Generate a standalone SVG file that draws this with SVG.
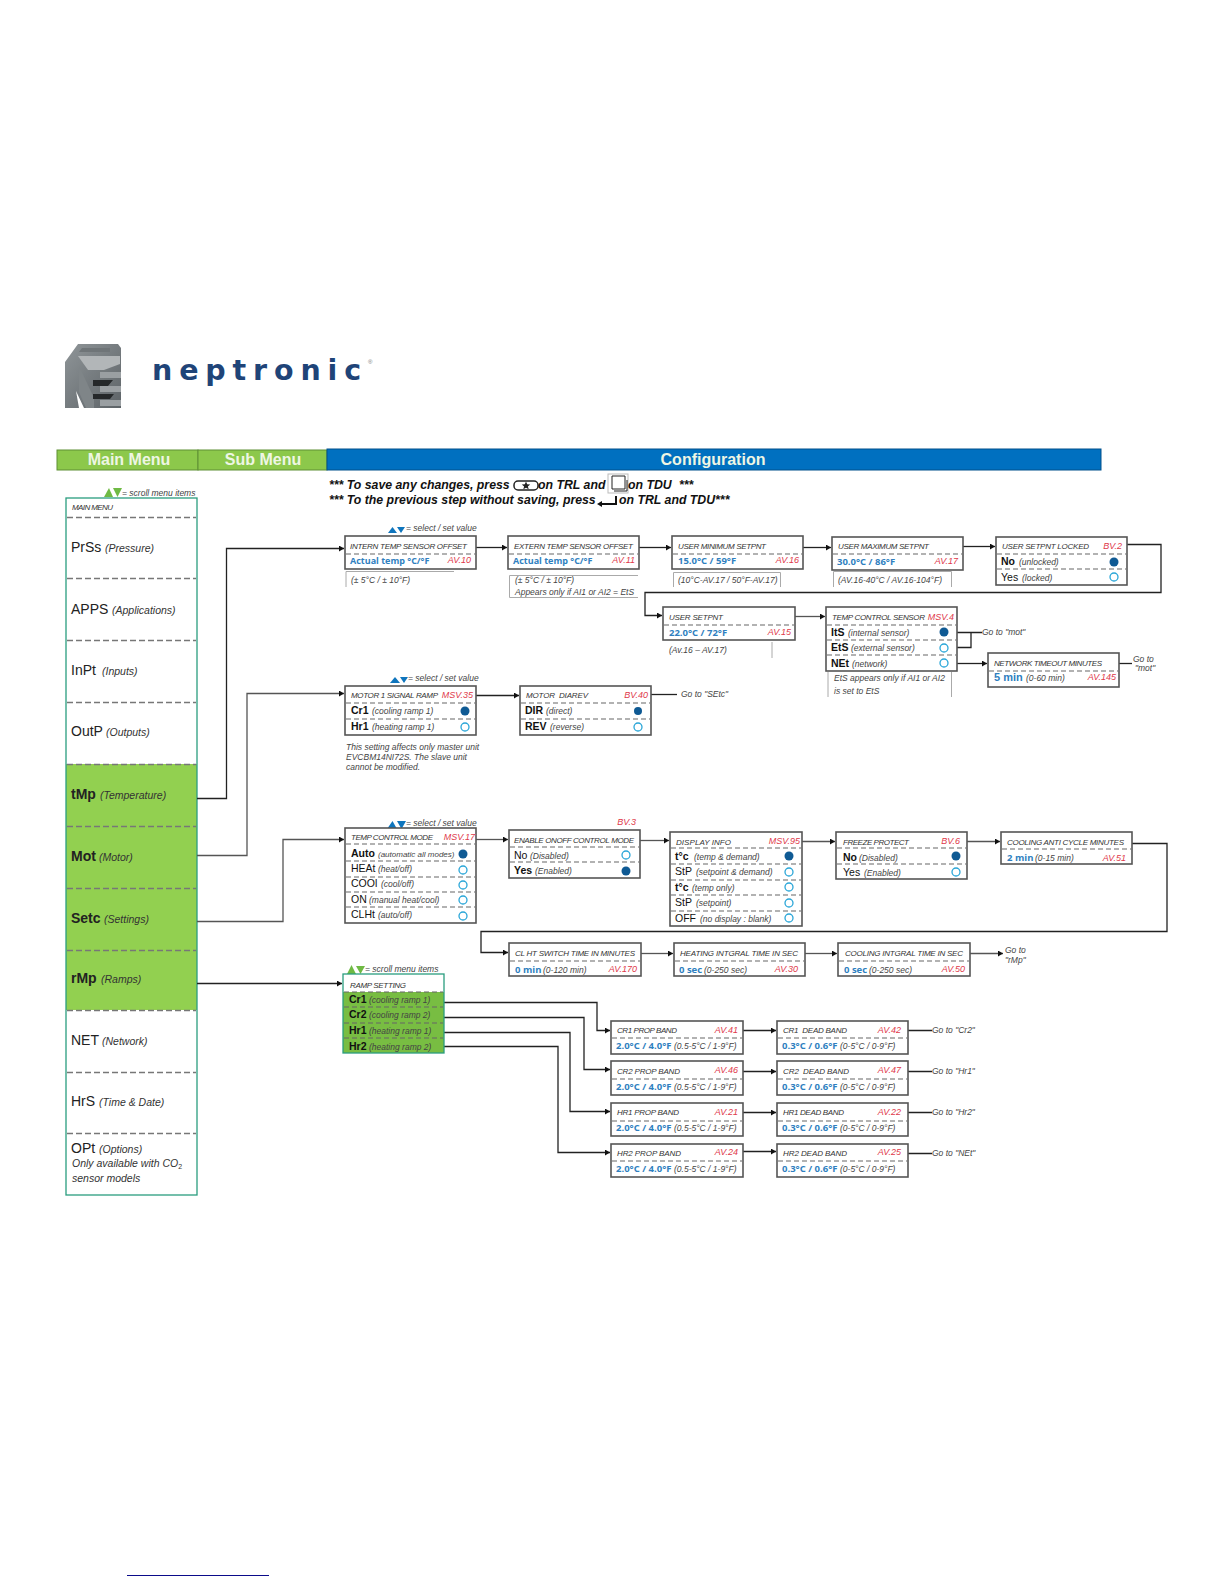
<svg xmlns="http://www.w3.org/2000/svg" width="1224" height="1584" viewBox="0 0 1224 1584">
<style>
text{font-family:"Liberation Sans",Arial,sans-serif}
.b{fill:#fff;stroke:#555;stroke-width:1.6}
.d{stroke:#666;stroke-width:1.2;stroke-dasharray:5 3;fill:none}
.md{stroke:#777;stroke-width:1.3;stroke-dasharray:6 3;fill:none}
.c{fill:none;stroke:#222;stroke-width:1.3}
.a{marker-end:url(#ar)}
.n{fill:none;stroke:#aaa;stroke-width:1}
.t{font-size:8px;font-style:italic;fill:#333}
.r{font-size:9px;font-style:italic;fill:#e0384a;text-anchor:end}
.v{font-family:"Open Sans",sans-serif;font-size:9.5px;font-weight:700;fill:#2f7fbf}
.o{font-size:10.5px;fill:#111}
.ob{font-size:10.5px;font-weight:700;fill:#111}
.i{font-size:8.5px;font-style:italic;fill:#444}
.m{font-size:14px;fill:#222}
.mb{font-size:14px;font-weight:700;fill:#222}
.mi{font-size:10.5px;font-style:italic;fill:#333}
.w{font-size:16px;font-weight:700;fill:#eef6e4;text-anchor:middle}
.s{font-size:12.3px;font-weight:700;font-style:italic;fill:#111}
.on{fill:#0f5a94}
.off{fill:#fff;stroke:#2aa6d8;stroke-width:1.3}
</style>
<defs>
<marker id="ar" markerWidth="6" markerHeight="7" refX="5" refY="3" orient="auto" markerUnits="userSpaceOnUse"><path d="M0 0L5 3L0 6Z" fill="#111"/></marker>
<linearGradient id="lg" x1="0" y1="0" x2="1" y2="1"><stop offset="0" stop-color="#8f9598"/><stop offset="1" stop-color="#5d6367"/></linearGradient>
</defs>
<g id="logo">
<path d="M65 362L78 344H118L121 348V408H84L76 391L79 408H65Z" fill="url(#lg)"/>
<path d="M82 348H110V352H79Z" fill="#6f7578"/>
<path d="M78 356H120V364L104 370H88Z" fill="#b2b6b8"/>
<path d="M79 366L94 398V408H86L79 392Z" fill="#7f8588"/>
<path d="M93 380H113L108 386H93ZM93 394H114L110 399H93Z" fill="#25282a"/>
<path d="M100 372H121V378H100ZM100 386H121V392H100ZM100 400H121V406H100Z" fill="#9a9fa2"/>
<text x="152" y="380" font-size="29" font-weight="700" fill="#1f4478" letter-spacing="7" textLength="216" lengthAdjust="spacingAndGlyphs" style="font-family:'DejaVu Sans',sans-serif">neptronic</text>
<text x="368" y="364" font-size="6" fill="#777">®</text>
</g>
<g id="header">
<rect x="57" y="450" width="141" height="20" fill="#8cc84b" stroke="#5f8f35"/>
<rect x="198" y="450" width="129" height="20" fill="#8cc84b" stroke="#5f8f35"/>
<rect x="327" y="449" width="774" height="21" fill="#0070c0" stroke="#00508c"/>
<text class="w" x="129" y="465">Main Menu</text>
<text class="w" x="263" y="465">Sub Menu</text>
<text class="w" x="713" y="465">Configuration</text>
</g>
<g id="instructions">
<text class="s" x="329" y="489">*** To save any changes, press</text>
<rect x="514" y="481" width="24" height="9" rx="4" fill="none" stroke="#222" stroke-width="1.5"/>
<path d="M526 481.500l1.200 2.800 3 .2-2.300 1.900.8 2.900-2.700-1.600-2.700 1.600.8-2.900-2.300-1.900 3-.2z" fill="#222"/>
<text class="s" x="538" y="489">on TRL and</text>
<rect x="608" y="474" width="20" height="19" fill="none" stroke="#bbb"/>
<path d="M612 476H625V489H612ZM627 480V491H614" fill="none" stroke="#222" stroke-width="1"/>
<text class="s" x="628" y="489">on TDU</text>
<text class="s" x="679" y="489">***</text>
<text class="s" x="329" y="504">*** To the previous step without saving, press</text>
<path d="M616 496V504H600" fill="none" stroke="#111" stroke-width="2"/>
<path d="M597 504L602 501V507Z" fill="#111"/>
<text class="s" x="619" y="504">on TRL and TDU***</text>
<path d="M104 497L109 488L113 497Z" fill="#6fba44"/><path d="M113 488H122L117.500 497Z" fill="#6fba44"/>
<text class="i" x="122" y="496">= scroll menu items</text>
<path d="M388 533L392.500 527L397 533Z" fill="#0f75bd"/><path d="M397 527H405L401 533Z" fill="#0f75bd"/>
<text class="i" x="406" y="531">= select / set value</text>
<path d="M390 683L395 677L400 683Z" fill="#0f75bd"/><path d="M400 677H408L404 683Z" fill="#0f75bd"/>
<text class="i" x="408" y="681">= select / set value</text>
<path d="M387 829L392.500 821L397 829Z" fill="#0f75bd"/><path d="M397 821H406L401.500 829Z" fill="#0f75bd"/>
<text class="i" x="406" y="826">= select / set value</text>
<path d="M347 974L351.500 965L356 974Z" fill="#6fba44"/><path d="M356 966H365L360.500 974Z" fill="#6fba44"/>
<text class="i" x="365" y="972">= scroll menu items</text>
</g>
<g id="main-menu">
<rect x="66" y="764" width="131" height="246" fill="#92d050"/>
<rect x="66" y="498" width="131" height="697" fill="none" stroke="#2a9d7f" stroke-width="1.3"/>
<path class="md" d="M67 517.500H196M67 578.500H196M67 640.500H196M67 702.500H196M67 764.500H196M67 826.500H196M67 888.500H196M67 950.500H196M67 1010.500H196M67 1072.500H196M67 1133.500H196"/>
<text class="t" x="72" y="510" textLength="41">MAIN MENU</text>
<g id="m-prss"><text class="m" x="71" y="552">PrSs</text><text class="mi" x="105" y="552">(Pressure)</text></g>
<g id="m-apps"><text class="m" x="71" y="614">APPS</text><text class="mi" x="112" y="614">(Applications)</text></g>
<g id="m-inpt"><text class="m" x="71" y="675">InPt</text><text class="mi" x="102" y="675">(Inputs)</text></g>
<g id="m-outp"><text class="m" x="71" y="736">OutP</text><text class="mi" x="106" y="736">(Outputs)</text></g>
<g id="m-tmp"><text class="mb" x="71" y="799">tMp</text><text class="mi" x="100" y="799">(Temperature)</text></g>
<g id="m-mot"><text class="mb" x="71" y="861">Mot</text><text class="mi" x="99" y="861">(Motor)</text></g>
<g id="m-setc"><text class="mb" x="71" y="923">Setc</text><text class="mi" x="104" y="923">(Settings)</text></g>
<g id="m-rmp"><text class="mb" x="71" y="983">rMp</text><text class="mi" x="101" y="983">(Ramps)</text></g>
<g id="m-net"><text class="m" x="71" y="1045">NET</text><text class="mi" x="102" y="1045">(Network)</text></g>
<g id="m-hrs"><text class="m" x="71" y="1106">HrS</text><text class="mi" x="99" y="1106">(Time &amp; Date)</text></g>
<g id="m-opt"><text class="m" x="71" y="1153">OPt</text><text class="mi" x="99" y="1153">(Options)</text>
<text class="mi" x="72" y="1167">Only available with CO<tspan font-size="7" dy="2" font-style="normal">2</tspan></text>
<text class="mi" x="72" y="1182">sensor models</text></g>
</g>
<g id="connectors">
<path class="c a" d="M197 798.500H226.500V548.500H344"/>
<path class="c a" d="M197 855.500H247V693.500H344" style="stroke:#555"/>
<path class="c a" d="M197 921.500H283V839.500H344" style="stroke:#555"/>
<path class="c a" d="M197 983.500H342"/>
<path class="c a" d="M476 547.500H507"/>
<path class="c a" d="M639 547.500H671"/>
<path class="c a" d="M803 547.500H831"/>
<path class="c a" d="M963 546.500H995"/>
<path class="c a" d="M1127 544.500H1161V592.500H645V615.500H662"/>
<path class="c a" d="M795 616.500H825" style="stroke:#555"/>
<path class="c" d="M955 632.500H982M957 647.500H971V632.500"/>
<path class="c a" d="M957 663.500H987"/>
<path class="c" d="M1119 663.500H1132"/>
<path class="c a" d="M476 695.500H519"/>
<path class="c" d="M651 694.500H677"/>
<path class="c a" d="M476 839.500H508" style="stroke:#555"/>
<path class="c a" d="M640 840.500H669" style="stroke:#555"/>
<path class="c a" d="M802 841.500H835" style="stroke:#555"/>
<path class="c a" d="M967 841.500H1000" style="stroke:#555"/>
<path class="c a" d="M1132 843.500H1167V931.500H481V952.500H508"/>
<path class="c a" d="M641 953.500H673" style="stroke:#555"/>
<path class="c a" d="M805 953.500H837" style="stroke:#555"/>
<path class="c a" d="M970 953.500H1003" style="stroke:#555"/>
<path class="c a" d="M444 1002.500H597V1030.500H610"/>
<path class="c a" d="M444 1017.500H584V1069.500H610"/>
<path class="c a" d="M444 1032.500H570V1111.500H610"/>
<path class="c a" d="M444 1046.500H558V1152.500H610"/>
<path class="c a" d="M743 1030.500H776"/>
<path class="c a" d="M743 1071.500H776"/>
<path class="c a" d="M743 1112.500H776"/>
<path class="c a" d="M743 1151.500H776"/>
<path class="c" d="M908 1030.500H932M908 1071.500H932M908 1112.500H932M908 1153.500H932"/>
</g>
<g id="n-intern">
<rect class="b" x="345" y="536" width="131" height="33"/><path class="d" d="M346 554H475"/>
<text class="t" x="350" y="549" textLength="117">INTERN TEMP SENSOR OFFSET</text>
<text class="v" x="350" y="564" style="font-size:9px">Actual temp °C/°F</text><text class="r" x="471" y="563">AV.10</text>
<path class="n" d="M346 587V571.500H454"/><text class="i" x="351" y="583">(± 5°C / ± 10°F)</text>
</g>
<g id="n-extern">
<rect class="b" x="508" y="536" width="131" height="33"/><path class="d" d="M509 554H638"/>
<text class="t" x="514" y="549" textLength="119">EXTERN TEMP SENSOR OFFSET</text>
<text class="v" x="513" y="564" style="font-size:9px">Actual temp °C/°F</text><text class="r" x="635" y="563">AV.11</text>
<path class="n" d="M638 575.500H509.500V597.500H638"/><text class="i" x="515" y="583">(± 5°C / ± 10°F)</text><text class="i" x="515" y="595">Appears only if AI1 or AI2  = EtS</text>
</g>
<g id="n-usermin">
<rect class="b" x="672" y="536" width="131" height="33"/><path class="d" d="M673 554H802"/>
<text class="t" x="678" y="549" textLength="88">USER MINIMUM SETPNT</text>
<text class="v" x="678" y="564">15.0°C / 59°F</text><text class="r" x="799" y="563">AV.16</text>
<path class="n" d="M673.500 587V572.500H780.500V587"/><text class="i" x="678" y="583">(10°C-AV.17 / 50°F-AV.17)</text>
</g>
<g id="n-usermax">
<rect class="b" x="832" y="537" width="131" height="33"/><path class="d" d="M833 554H962"/>
<text class="t" x="838" y="549" textLength="91">USER MAXIMUM SETPNT</text>
<text class="v" x="837" y="565">30.0°C / 86°F</text><text class="r" x="958" y="564">AV.17</text>
<path class="n" d="M833.500 587V571.500H951.500V587"/><text class="i" x="838" y="583">(AV.16-40°C / AV.16-104°F)</text>
</g>
<g id="n-locked">
<rect class="b" x="996" y="537" width="131" height="48"/><path class="d" d="M997 554H1126M997 569H1126"/>
<text class="t" x="1002" y="549" textLength="87">USER SETPNT LOCKED</text><text class="r" x="1122" y="549">BV.2</text>
<text class="ob" x="1001" y="565">No</text><text class="i" x="1019" y="565">(unlocked)</text><circle class="on" cx="1114" cy="562" r="4.500"/>
<text class="o" x="1001" y="581">Yes</text><text class="i" x="1022" y="581">(locked)</text><circle class="off" cx="1114" cy="577" r="4"/>
</g>
<g id="n-setpnt">
<rect class="b" x="663" y="607" width="132" height="33"/><path class="d" d="M664 625H794"/>
<text class="t" x="669" y="620" textLength="54">USER SETPNT</text>
<text class="v" x="669" y="636">22.0°C / 72°F</text><text class="r" x="791" y="635">AV.15</text>
<path class="n" d="M772 642V658"/><text class="i" x="669" y="653">(Av.16 – AV.17)</text>
</g>
<g id="n-sensor">
<rect class="b" x="826" y="607" width="131" height="64"/><path class="d" d="M827 625H956M827 640H956M827 655H956"/>
<text class="t" x="832" y="620" textLength="93">TEMP CONTROL SENSOR</text><text class="r" x="954" y="620">MSV.4</text>
<text class="ob" x="831" y="636">ItS</text><text class="i" x="848" y="636">(internal sensor)</text><circle class="on" cx="944" cy="632" r="4.500"/>
<text class="ob" x="831" y="651">EtS</text><text class="i" x="851" y="651">(external sensor)</text><circle class="off" cx="944" cy="648" r="4"/>
<text class="ob" x="831" y="667">NEt</text><text class="i" x="852" y="667">(network)</text><circle class="off" cx="944" cy="663" r="4"/>
<path class="n" d="M828 672V697M951.500 672V697"/><text class="i" x="834" y="681">EtS appears only if AI1 or AI2</text><text class="i" x="834" y="694">is set to EtS</text>
</g>
<g id="n-timeout">
<rect class="b" x="988" y="653" width="131" height="34"/><path class="d" d="M989 671H1118"/>
<text class="t" x="994" y="666" textLength="108">NETWORK TIMEOUT MINUTES</text>
<text class="v" x="994" y="681" style="font-size:11px;font-family:'Liberation Sans'">5 min</text><text class="i" x="1026" y="681">(0-60 min)</text><text class="r" x="1116" y="680">AV.145</text>
<text class="i" x="1133" y="662">Go to</text><text class="i" x="1135" y="671">"mot"</text>
</g>
<text class="i" x="982" y="635">Go to "mot"</text>
<g id="n-ramp1">
<rect class="b" x="345" y="686" width="131" height="49"/><path class="d" d="M346 703H475M346 719H475"/>
<text class="t" x="351" y="698" textLength="87">MOTOR 1 SIGNAL RAMP</text><text class="r" x="473" y="698">MSV.35</text>
<text class="ob" x="351" y="714">Cr1</text><text class="i" x="372" y="714">(cooling ramp 1)</text><circle class="on" cx="465" cy="711" r="4.500"/>
<text class="ob" x="351" y="730">Hr1</text><text class="i" x="372" y="730">(heating ramp 1)</text><circle class="off" cx="465" cy="727" r="4"/>
<text class="i" x="346" y="750">This setting affects only master unit</text><text class="i" x="346" y="760">EVCBM14NI72S. The slave unit</text><text class="i" x="346" y="770">cannot be modified.</text>
</g>
<g id="n-dirrev">
<rect class="b" x="520" y="686" width="131" height="49"/><path class="d" d="M521 703H650M521 719H650"/>
<text class="t" x="526" y="698" textLength="62" xml:space="preserve">MOTOR  DIAREV</text><text class="r" x="648" y="698">BV.40</text>
<text class="ob" x="525" y="714">DIR</text><text class="i" x="546" y="714">(direct)</text><circle class="on" cx="638" cy="711" r="4"/>
<text class="ob" x="525" y="730">REV</text><text class="i" x="550" y="730">(reverse)</text><circle class="off" cx="638" cy="727" r="4"/>
<text class="i" x="681" y="697">Go to "SEtc"</text>
</g>
<g id="n-mode">
<rect class="b" x="345" y="828" width="131" height="95"/><path class="d" d="M346 844H475M346 861H475M346 877H475M346 892H475M346 907H475"/>
<text class="t" x="351" y="840" textLength="82">TEMP CONTROL MODE</text><text class="r" x="475" y="840">MSV.17</text>
<text class="ob" x="351" y="857">Auto</text><text class="i" x="378" y="857" style="font-size:8px">(automatic all modes)</text><circle class="on" cx="463" cy="854" r="4.500"/>
<text class="o" x="351" y="872">HEAt</text><text class="i" x="378" y="872">(heat/off)</text><circle class="off" cx="463" cy="870" r="4"/>
<text class="o" x="351" y="887">COOl</text><text class="i" x="381" y="887">(cool/off)</text><circle class="off" cx="463" cy="885" r="4"/>
<text class="o" x="351" y="903">ON</text><text class="i" x="369" y="903">(manual heat/cool)</text><circle class="off" cx="463" cy="900" r="4"/>
<text class="o" x="351" y="918">CLHt</text><text class="i" x="378" y="918">(auto/off)</text><circle class="off" cx="463" cy="916" r="4"/>
</g>
<g id="n-onoff">
<rect class="b" x="509" y="830" width="131" height="48"/><path class="d" d="M510 847H639M510 862H639"/>
<text class="t" x="514" y="843" textLength="120">ENABLE ONOFF CONTROL MODE</text><text class="r" x="636" y="825">BV.3</text>
<text class="o" x="514" y="859">No</text><text class="i" x="530" y="859">(Disabled)</text><circle class="off" cx="626" cy="855" r="4"/>
<text class="ob" x="514" y="874">Yes</text><text class="i" x="535" y="874">(Enabled)</text><circle class="on" cx="626" cy="871" r="4.500"/>
</g>
<g id="n-display">
<rect class="b" x="670" y="832" width="132" height="94"/><path class="d" d="M671 848H801M671 864H801M671 880H801M671 895H801M671 911H801"/>
<text class="t" x="676" y="845" textLength="55">DISPLAY INFO</text><text class="r" x="800" y="844">MSV.95</text>
<text class="ob" x="675" y="860">t°c</text><text class="i" x="694" y="860">(temp &amp; demand)</text><circle class="on" cx="789" cy="856" r="4.500"/>
<text class="o" x="675" y="875">StP</text><text class="i" x="696" y="875">(setpoint &amp; demand)</text><circle class="off" cx="789" cy="872" r="4"/>
<text class="ob" x="675" y="891">t°c</text><text class="i" x="692" y="891">(temp only)</text><circle class="off" cx="789" cy="887" r="4"/>
<text class="o" x="675" y="906">StP</text><text class="i" x="696" y="906">(setpoint)</text><circle class="off" cx="789" cy="903" r="4"/>
<text class="o" x="675" y="922">OFF</text><text class="i" x="700" y="922">(no display : blank)</text><circle class="off" cx="789" cy="918" r="4"/>
</g>
<g id="n-freeze">
<rect class="b" x="836" y="832" width="131" height="47"/><path class="d" d="M837 848H966M837 864H966"/>
<text class="t" x="843" y="845" textLength="66">FREEZE PROTECT</text><text class="r" x="960" y="844">BV.6</text>
<text class="ob" x="843" y="861">No</text><text class="i" x="859" y="861">(Disabled)</text><circle class="on" cx="956" cy="856" r="4.500"/>
<text class="o" x="843" y="876">Yes</text><text class="i" x="864" y="876">(Enabled)</text><circle class="off" cx="956" cy="872" r="4"/>
</g>
<g id="n-anticycle">
<rect class="b" x="1001" y="832" width="131" height="32"/><path class="d" d="M1002 849H1131"/>
<text class="t" x="1007" y="845" textLength="117">COOLING ANTI CYCLE MINUTES</text>
<text class="v" x="1007" y="861">2 min</text><text class="i" x="1035" y="861">(0-15 min)</text><text class="r" x="1126" y="861">AV.51</text>
</g>
<g id="n-switch">
<rect class="b" x="509" y="943" width="132" height="33"/><path class="d" d="M510 961H640"/>
<text class="t" x="515" y="956" textLength="120">CL HT SWITCH TIME IN MINUTES</text>
<text class="v" x="515" y="973">0 min</text><text class="i" x="543" y="973">(0-120 min)</text><text class="r" x="637" y="972">AV.170</text>
</g>
<g id="n-heatint">
<rect class="b" x="674" y="943" width="131" height="33"/><path class="d" d="M675 961H804"/>
<text class="t" x="680" y="956" textLength="118">HEATING INTGRAL TIME IN SEC</text>
<text class="v" x="679" y="973">0 sec</text><text class="i" x="704" y="973">(0-250 sec)</text><text class="r" x="798" y="972">AV.30</text>
</g>
<g id="n-coolint">
<rect class="b" x="838" y="943" width="132" height="33"/><path class="d" d="M839 961H969"/>
<text class="t" x="845" y="956" textLength="118">COOLING INTGRAL TIME IN SEC</text>
<text class="v" x="844" y="973">0 sec</text><text class="i" x="869" y="973">(0-250 sec)</text><text class="r" x="965" y="972">AV.50</text>
<text class="i" x="1005" y="953">Go to</text><text class="i" x="1005" y="963">"rMp"</text>
</g>
<g id="n-rampset">
<rect x="343" y="992" width="101" height="61" fill="#78bd42"/>
<rect x="343" y="974" width="101" height="79" fill="none" stroke="#2a9d7f" stroke-width="1.300"/>
<path class="d" d="M344 992H443M344 1007H443M344 1023H443M344 1038H443"/>
<text class="t" x="350" y="988" textLength="56">RAMP SETTING</text>
<text class="ob" x="349" y="1003">Cr1</text><text class="i" x="369" y="1003">(cooling ramp 1)</text>
<text class="ob" x="349" y="1018">Cr2</text><text class="i" x="369" y="1018">(cooling ramp 2)</text>
<text class="ob" x="349" y="1034">Hr1</text><text class="i" x="369" y="1034">(heating ramp 1)</text>
<text class="ob" x="349" y="1050">Hr2</text><text class="i" x="369" y="1050">(heating ramp 2)</text>
</g>
<g id="n-cr1p"><rect class="b" x="611" y="1021" width="132" height="33"/><path class="d" d="M612 1038H742"/><text class="t" x="617" y="1033" textLength="60">CR1 PROP BAND</text><text class="r" x="738" y="1033">AV.41</text><text class="v" x="616" y="1049">2.0°C / 4.0°F</text><text class="i" x="674" y="1049">(0.5-5°C / 1-9°F)</text></g>
<g id="n-cr2p"><rect class="b" x="611" y="1061" width="132" height="34"/><path class="d" d="M612 1079H742"/><text class="t" x="617" y="1074" textLength="63">CR2 PROP BAND</text><text class="r" x="738" y="1073">AV.46</text><text class="v" x="616" y="1090">2.0°C / 4.0°F</text><text class="i" x="674" y="1090">(0.5-5°C / 1-9°F)</text></g>
<g id="n-hr1p"><rect class="b" x="611" y="1103" width="132" height="33"/><path class="d" d="M612 1121H742"/><text class="t" x="617" y="1115" textLength="62">HR1 PROP BAND</text><text class="r" x="738" y="1115">AV.21</text><text class="v" x="616" y="1131">2.0°C / 4.0°F</text><text class="i" x="674" y="1131">(0.5-5°C / 1-9°F)</text></g>
<g id="n-hr2p"><rect class="b" x="611" y="1144" width="132" height="33"/><path class="d" d="M612 1161H742"/><text class="t" x="617" y="1156" textLength="64">HR2 PROP BAND</text><text class="r" x="738" y="1155">AV.24</text><text class="v" x="616" y="1172">2.0°C / 4.0°F</text><text class="i" x="674" y="1172">(0.5-5°C / 1-9°F)</text></g>
<g id="n-cr1d"><rect class="b" x="777" y="1021" width="131" height="33"/><path class="d" d="M778 1038H907"/><text class="t" x="783" y="1033" textLength="64" xml:space="preserve">CR1  DEAD BAND</text><text class="r" x="901" y="1033">AV.42</text><text class="v" x="782" y="1049">0.3°C / 0.6°F</text><text class="i" x="840" y="1049">(0-5°C / 0-9°F)</text><text class="i" x="932" y="1033">Go to "Cr2"</text></g>
<g id="n-cr2d"><rect class="b" x="777" y="1061" width="131" height="34"/><path class="d" d="M778 1079H907"/><text class="t" x="783" y="1074" textLength="66" xml:space="preserve">CR2  DEAD BAND</text><text class="r" x="901" y="1073">AV.47</text><text class="v" x="782" y="1090">0.3°C / 0.6°F</text><text class="i" x="840" y="1090">(0-5°C / 0-9°F)</text><text class="i" x="932" y="1074">Go to "Hr1"</text></g>
<g id="n-hr1d"><rect class="b" x="777" y="1103" width="131" height="33"/><path class="d" d="M778 1121H907"/><text class="t" x="783" y="1115" textLength="61">HR1 DEAD BAND</text><text class="r" x="901" y="1115">AV.22</text><text class="v" x="782" y="1131">0.3°C / 0.6°F</text><text class="i" x="840" y="1131">(0-5°C / 0-9°F)</text><text class="i" x="932" y="1115">Go to "Hr2"</text></g>
<g id="n-hr2d"><rect class="b" x="777" y="1144" width="131" height="33"/><path class="d" d="M778 1161H907"/><text class="t" x="783" y="1156" textLength="64">HR2 DEAD BAND</text><text class="r" x="901" y="1155">AV.25</text><text class="v" x="782" y="1172">0.3°C / 0.6°F</text><text class="i" x="840" y="1172">(0-5°C / 0-9°F)</text><text class="i" x="932" y="1156">Go to "NEt"</text></g>
<path id="footer-line" d="M127 1575.500H269" stroke="#0b0b8a" stroke-width="1" fill="none"/>
</svg>
